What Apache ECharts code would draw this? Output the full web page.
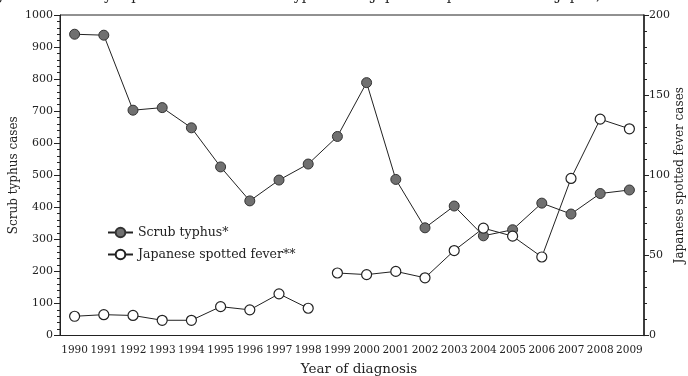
<!DOCTYPE html>
<html>
<head>
<meta charset="utf-8">
<script src="https://cdn.jsdelivr.net/npm/echarts@6/dist/echarts.min.js"></script>
<style>html,body{margin:0;padding:0;background:#fff}#c{width:688px;height:376px}</style>
</head>
<body>
<div id="c"></div>
<script>
const years = ['1990','1991','1992','1993','1994','1995','1996','1997','1998','1999','2000','2001','2002','2003','2004','2005','2006','2007','2008','2009'];
const scrubTyphus = [940, 937, 703, 711, 648, 526, 420, 485, 535, 621, 789, 487, 336, 404, 311, 330, 413, 379, 443, 454];
const spottedFever = [12, 13, 12.5, 9.5, 9.5, 18, 16, 26, 17, 39, 38, 40, 36, 53, 67, 62, 49, 98, 135, 129];
const spottedFeverBreakAfter = '1998';
const leftTicks = [0, 100, 200, 300, 400, 500, 600, 700, 800, 900, 1000];
const rightTicks = [0, 50, 100, 150, 200];

const FONT = 'DejaVu Serif';
const breakIdx = years.indexOf(spottedFeverBreakAfter);
const jsfPart1 = spottedFever.map((v, i) => i <= breakIdx ? v : null);
const jsfPart2 = spottedFever.map((v, i) => i > breakIdx ? v : null);

const chart = echarts.init(document.getElementById('c'));
const jsfStyle = {
  type: 'line', yAxisIndex: 1, name: 'Japanese spotted fever**',
  symbol: 'circle', symbolSize: 10, connectNulls: false,
  lineStyle: {color: '#222', width: 1},
  itemStyle: {color: '#fff', borderColor: '#222', borderWidth: 1.2},
  emphasis: {disabled: true}
};
chart.setOption({
  backgroundColor: '#fff',
  animation: false,
  title: {
    text: 'Figure 1. Annually reported cases of scrub typhus and Japanese spotted fever in Japan, 1990-2009',
    right: 2, top: -16,
    textStyle: {fontFamily: FONT, fontSize: 14, fontWeight: 'normal', color: '#222'}
  },
  grid: {left: 60, right: 44, top: 15, bottom: 40.5, outerBoundsMode: 'none', containLabel: false,
         show: true, borderColor: '#222', borderWidth: 1, backgroundColor: 'transparent'},
  legend: {
    orient: 'vertical', left: 102, top: 221, itemWidth: 25, itemHeight: 12, itemGap: 9,
    textStyle: {fontFamily: FONT, fontSize: 12.5, color: '#222'},
    data: ['Scrub typhus*', 'Japanese spotted fever**']
  },
  xAxis: {
    type: 'category', data: years, boundaryGap: true,
    name: 'Year of diagnosis', nameLocation: 'middle', nameGap: 27, nameMoveOverlap: false,
    nameTextStyle: {fontFamily: FONT, fontSize: 13.5, color: '#222', padding: [0, 0, 0, 14]},
    axisLine: {lineStyle: {color: '#222', width: 1}},
    axisTick: {alignWithLabel: true, interval: 0, length: 4, lineStyle: {color: '#222'}},
    axisLabel: {interval: 0, margin: 9, fontFamily: FONT, fontSize: 10.5, color: '#222'},
    splitLine: {show: false}
  },
  yAxis: [{
    type: 'value', min: leftTicks[0], max: leftTicks[leftTicks.length - 1], interval: leftTicks[1] - leftTicks[0],
    name: 'Scrub typhus cases', nameLocation: 'middle', nameGap: 40, nameRotate: 90, nameMoveOverlap: false,
    nameTextStyle: {fontFamily: FONT, fontSize: 12, color: '#222'},
    axisLine: {show: true, lineStyle: {color: '#222', width: 1}},
    axisTick: {show: true, length: 6, lineStyle: {color: '#222'}},
    minorTick: {show: true, splitNumber: 5, length: 3, lineStyle: {color: '#222'}},
    axisLabel: {margin: 7, fontFamily: FONT, fontSize: 11, color: '#222', formatter: v => String(v)},
    splitLine: {show: false}
  }, {
    type: 'value', position: 'right', min: rightTicks[0], max: rightTicks[rightTicks.length - 1], interval: rightTicks[1] - rightTicks[0],
    name: 'Japanese spotted fever cases', nameLocation: 'middle', nameGap: 30, nameRotate: 90, nameMoveOverlap: false,
    nameTextStyle: {fontFamily: FONT, fontSize: 12, color: '#222'},
    axisLine: {show: true, lineStyle: {color: '#222', width: 1.5}},
    axisTick: {show: true, length: 5, lineStyle: {color: '#222'}},
    minorTick: {show: true, splitNumber: 5, length: 3, lineStyle: {color: '#222'}},
    axisLabel: {margin: 5, fontFamily: FONT, fontSize: 11, color: '#222', formatter: v => String(v)},
    splitLine: {show: false}
  }],
  series: [{
    type: 'line', yAxisIndex: 0, name: 'Scrub typhus*', data: scrubTyphus,
    symbol: 'circle', symbolSize: 10,
    lineStyle: {color: '#222', width: 1},
    itemStyle: {color: '#707070', borderColor: '#333', borderWidth: 1},
    emphasis: {disabled: true}
  },
  Object.assign({data: jsfPart1}, jsfStyle),
  Object.assign({data: jsfPart2}, jsfStyle)]
});
</script>
</body>
</html>
